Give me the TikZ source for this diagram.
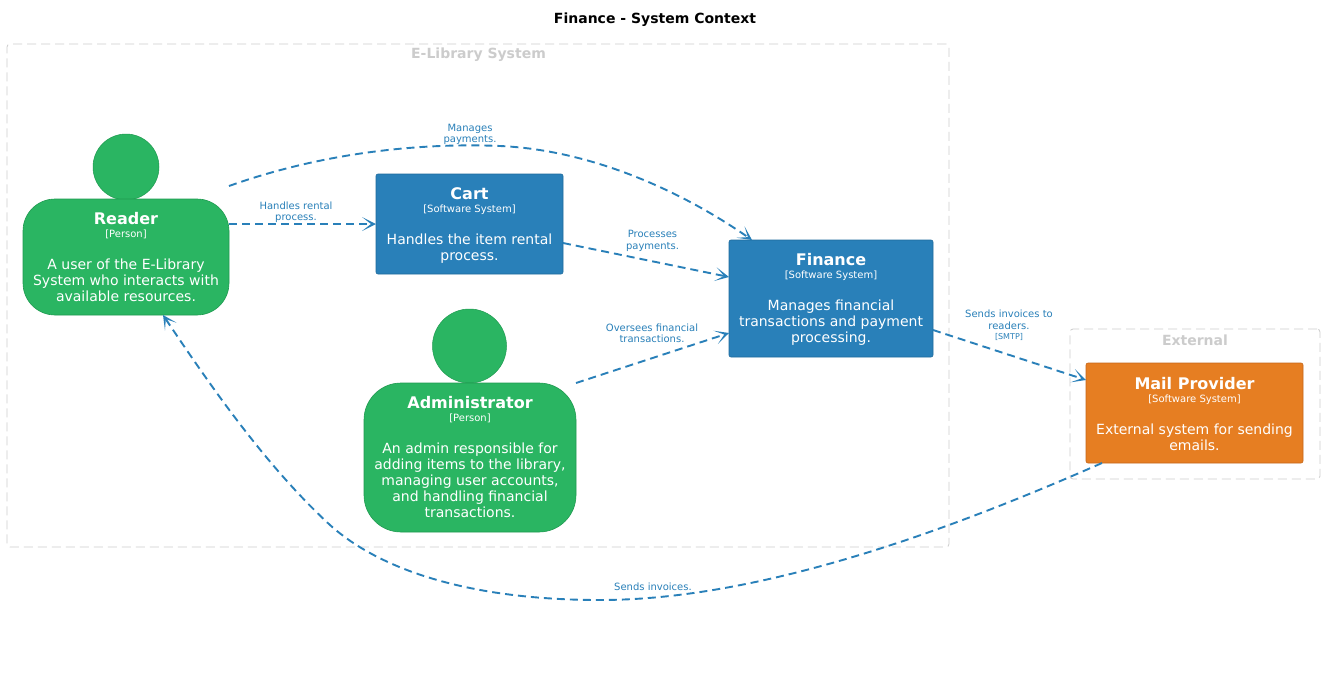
\documentclass[tikz,border=0pt]{standalone}
\usepackage{fontspec}
\setmainfont{DejaVu Sans}
\usetikzlibrary{arrows.meta,calc}
\definecolor{cgreen}{HTML}{2AB562}
\definecolor{cgreend}{HTML}{1F9A50}
\definecolor{cblue}{HTML}{2980B9}
\definecolor{cblued}{HTML}{1F6A9C}
\definecolor{corange}{HTML}{E67E22}
\definecolor{coranged}{HTML}{C4661A}
\definecolor{cgrey}{HTML}{CCCCCC}
\newcommand{\elemtext}[4][0pt]{\rule{0pt}{#1}{\fontsize{16}{19}\selectfont\bfseries #2}\\[-3pt]{\fontsize{10}{12}\selectfont [#3]}\\[16pt]#4}
\tikzset{
  x=1pt,y=-1pt,
  elem/.style={draw,text=white,align=center,outer sep=0pt,inner sep=0pt,line width=0.6pt,font=\fontsize{14}{16}\selectfont},
  sysblue/.style={elem,fill=cblue,draw=cblued,rounded corners=2pt},
  sysorange/.style={elem,fill=corange,draw=coranged,rounded corners=2pt},
  personbody/.style={elem,fill=cgreen,draw=cgreend},
  personhead/.style={circle,fill=cgreen,draw=cgreend,line width=0.5pt,inner sep=0pt,outer sep=0pt},
  boundary/.style={draw=cgrey,line width=0.8pt,dash pattern=on 9pt off 5pt,rounded corners=3pt,outer sep=0pt,inner sep=0pt},
  boundlabel/.style={text=cgrey,font=\fontsize{14}{16}\selectfont\bfseries,inner sep=0pt},
  rel/.style={draw=cblue,line width=1.9pt,dash pattern=on 8pt off 5pt,-{Stealth[length=14pt,width=14pt,inset=9pt,line width=0pt]}},
  rellabel/.style={text=cblue,align=center,inner sep=0pt,font=\fontsize{10}{11.5}\selectfont},
}
\begin{document}
\begin{tikzpicture}
\useasboundingbox (0,0) rectangle (1324,678);
\fill[white] (0,0) rectangle (1324,678);
\node[font=\fontsize{14}{16}\selectfont\bfseries,inner sep=0pt] (title) at (655,19.5) {Finance - System Context};

\node[boundary,minimum width=942pt,minimum height=503pt] (libbound) at (478,295.5) {};
\node[boundlabel] (liblabel) at (478.5,55) {E-Library System};
\node[boundary,minimum width=250pt,minimum height=150pt] (extbound) at (1195,404) {};
\node[boundlabel] (extlabel) at (1195,340) {External};

\node[personhead,minimum size=66pt] (readerhead) at (126,167) {};
\node[personbody,rounded corners=32pt,minimum width=206pt,minimum height=116pt] (reader) at (126,257)
  {\elemtext{Reader}{Person}{A user of the E-Library\\System who interacts with\\available resources.}};
\node[personhead,minimum size=74pt] (adminhead) at (469.5,346) {};
\node[personbody,rounded corners=37pt,minimum width=212pt,minimum height=149pt] (admin) at (470,457.5)
  {\elemtext{Administrator}{Person}{An admin responsible for\\adding items to the library,\\managing user accounts,\\and handling financial\\transactions.}};
\node[sysblue,minimum width=187pt,minimum height=100pt] (cart) at (469.5,224)
  {\elemtext[15.7pt]{Cart}{Software System}{Handles the item rental\\process.}};
\node[sysblue,minimum width=204pt,minimum height=117pt] (finance) at (831,298.5)
  {\elemtext[14.2pt]{Finance}{Software System}{Manages financial\\transactions and payment\\processing.}};
\node[sysorange,minimum width=217pt,minimum height=100pt] (mail) at (1194.5,413)
  {\elemtext[13.2pt]{Mail Provider}{Software System}{External system for sending\\emails.}};

\draw[rel] (reader.east |- cart.west) -- (cart.west);
\draw[rel] ([yshift=13pt]reader.north east) .. controls (330,150) and (430,143) .. (500,146) .. controls (590,150) and (680,190) .. ([xshift=-79pt]finance.north);
\draw[rel] ([yshift=-19pt]cart.east) -- ([yshift=21.5pt]finance.west);
\draw[rel] (admin.north east) -- ([yshift=-34.5pt]finance.west);
\draw[rel] ([yshift=-31.5pt]finance.east) -- ([yshift=33pt]mail.west);
\draw[rel] ([xshift=-92.5pt]mail.south) .. controls (950,530) and (760,600) .. (600,600) .. controls (470,600) and (380,570) .. (330,525) .. controls (265,465) and (210,385) .. ([xshift=37pt]reader.south);

\node[rellabel] (l1) at (470,134.5) {Manages\\payments.};
\node[rellabel] (l2) at (296,212) {Handles rental\\process.};
\node[rellabel] (l3) at (652.5,241) {Processes\\payments.};
\node[rellabel] (l4) at (652,333.5) {Oversees financial\\transactions.};
\node[rellabel] (l5) at (1009,325.5) {Sends invoices to\\readers.\\[-1pt]{\fontsize{8}{9}\selectfont [SMTP]}};
\node[rellabel] (l6) at (653,587) {Sends invoices.};
\end{tikzpicture}
\end{document}
